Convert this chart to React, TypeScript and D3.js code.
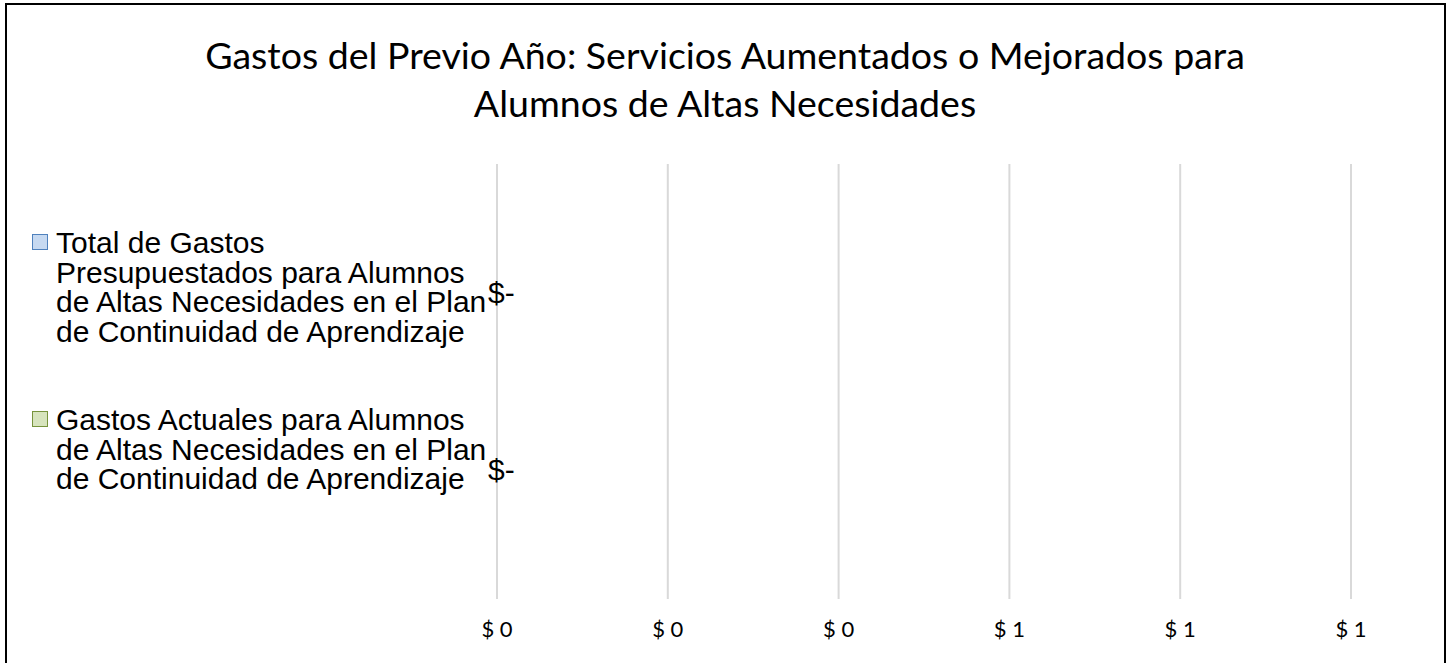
import React, { useEffect, useRef } from 'react';
import * as d3 from 'd3';

const titleLines = [
  'Gastos del Previo Año: Servicios Aumentados o Mejorados para',
  'Alumnos de Altas Necesidades',
];

const seriesNames = [
  'Total de Gastos Presupuestados para Alumnos de Altas Necesidades en el Plan de Continuidad de Aprendizaje',
  'Gastos Actuales para Alumnos de Altas Necesidades en el Plan de Continuidad de Aprendizaje',
];

// legend text as wrapped in the original
const legendLines = [
  ['Total de Gastos', 'Presupuestados para Alumnos', 'de Altas Necesidades en el Plan', 'de Continuidad de Aprendizaje'],
  ['Gastos Actuales para Alumnos', 'de Altas Necesidades en el Plan', 'de Continuidad de Aprendizaje'],
];

const seriesValues = [0, 0];
const seriesFill = ['#c6d9f1', '#d7e4bd'];
const seriesStroke = ['#4f81bd', '#77933c'];

const xTicks = [0, 0.2, 0.4, 0.6, 0.8, 1];

export default function App() {
  const ref = useRef<SVGSVGElement | null>(null);

  useEffect(() => {
    const svg = d3.select(ref.current);
    svg.selectAll('*').remove();

    const width = 1449;
    const height = 663;
    const plot = { left: 497, right: 1351, top: 164, bottom: 599 };

    svg.append('rect')
      .attr('width', width).attr('height', height).attr('fill', '#fff');

    // chart frame
    svg.append('rect')
      .attr('x', 6).attr('y', 4)
      .attr('width', 1439).attr('height', 680)
      .attr('fill', 'none').attr('stroke', '#000').attr('stroke-width', 2);

    // title
    const title = svg.append('text')
      .attr('text-anchor', 'middle')
      .attr('font-family', 'Lato, "Open Sans", sans-serif')
      .attr('font-size', 37.5)
      .attr('fill', '#000');
    titleLines.forEach((t, i) => {
      title.append('tspan').attr('x', 725).attr('y', 69 + i * 48).text(t);
    });

    const x = d3.scaleLinear().domain([0, 1]).range([plot.left, plot.right]);
    const y = d3.scaleBand<string>()
      .domain(seriesNames)
      .range([plot.top, plot.bottom])
      .paddingInner(0)
      .paddingOuter(0.229);

    // vertical gridlines
    svg.append('g')
      .selectAll('line')
      .data(xTicks)
      .join('line')
      .attr('x1', d => x(d)).attr('x2', d => x(d))
      .attr('y1', plot.top).attr('y2', plot.bottom)
      .attr('stroke', '#d9d9d9').attr('stroke-width', 2);

    // x tick labels
    const fmt = (v: number) => `$ ${d3.format('.0f')(v)}`;
    svg.append('g')
      .selectAll('text')
      .data(xTicks)
      .join('text')
      .attr('x', d => x(d))
      .attr('y', 637)
      .attr('text-anchor', 'middle')
      .attr('font-family', 'Lato, "Open Sans", sans-serif')
      .attr('font-size', 22)
      .attr('fill', '#000')
      .text(d => fmt(d));

    // bars (zero values)
    const barH = y.bandwidth() * 0.6;
    svg.append('g')
      .selectAll('rect')
      .data(seriesValues)
      .join('rect')
      .attr('x', x(0))
      .attr('y', (d, i) => (y(seriesNames[i]) ?? 0) + (y.bandwidth() - barH) / 2)
      .attr('width', d => x(d) - x(0))
      .attr('height', barH)
      .attr('fill', (d, i) => seriesFill[i]);

    // data labels
    svg.append('g')
      .selectAll('text')
      .data(seriesValues)
      .join('text')
      .attr('x', d => x(d) - 9)
      .attr('y', (d, i) => (y(seriesNames[i]) ?? 0) + y.bandwidth() / 2 + 10)
      .attr('font-family', '"Liberation Sans", Arial, sans-serif')
      .attr('font-size', 30)
      .attr('fill', '#000')
      .text(d => (d === 0 ? '$-' : `$${d}`));

    // legend
    const legendTop = [253, 430];
    legendLines.forEach((lines, i) => {
      const g = svg.append('g');
      g.append('rect')
        .attr('x', 32.5).attr('y', legendTop[i] - 18.5)
        .attr('width', 15).attr('height', 15)
        .attr('fill', seriesFill[i])
        .attr('stroke', seriesStroke[i]).attr('stroke-width', 1);
      const t = g.append('text')
        .attr('font-family', '"Liberation Sans", Arial, sans-serif')
        .attr('font-size', 30)
        .attr('fill', '#000');
      lines.forEach((ln, j) => {
        t.append('tspan').attr('x', 56).attr('y', legendTop[i] + j * 29.6).text(ln);
      });
    });
  }, []);

  return (
    <div style={{ position: 'absolute', left: 0, top: 0 }}>
      <svg ref={ref} width={1449} height={663} />
    </div>
  );
}
